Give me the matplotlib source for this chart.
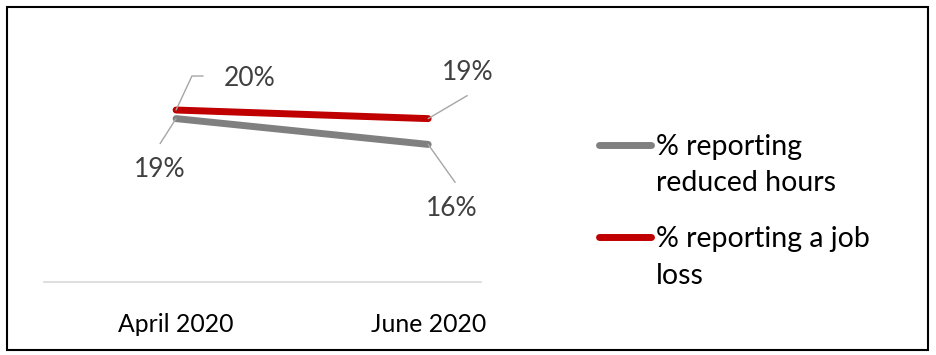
import matplotlib.pyplot as plt
from matplotlib.lines import Line2D
from matplotlib.patches import Rectangle

plt.rcParams['font.family'] = ['Lato', 'DejaVu Sans']

# data
categories = ['April 2020', 'June 2020']
reduced_hours = [19, 16]
job_loss = [20, 19]
series_names = ['% reporting\nreduced hours', '% reporting a job\nloss']
series_colors = ['#808080', '#c00000']

fig = plt.figure(figsize=(9.36, 3.55), dpi=100)
ax = fig.add_axes([0.047, 0.2056, 0.467, 0.6056])

x = range(len(categories))
ax.plot(x, reduced_hours, color=series_colors[0], lw=5, solid_capstyle='round')
ax.plot(x, job_loss, color=series_colors[1], lw=5, solid_capstyle='round')

ax.set_xlim(-0.524, 1.21)
ax.set_ylim(0, 25)
ax.set_xticks(list(x))
ax.set_xticklabels(categories, fontsize=17.8, color='black')
ax.tick_params(axis='x', length=0, pad=22)
ax.set_yticks([])
for s in ['top', 'right', 'left']:
    ax.spines[s].set_visible(False)
ax.spines['bottom'].set_color('#d9d9d9')
ax.spines['bottom'].set_linewidth(1.2)

# data labels with leader lines (offsets in pixels)
lead = dict(arrowstyle='-', color='#a6a6a6', lw=1, shrinkA=0, shrinkB=0)
lab = dict(fontsize=19, color='#404040', ha='center', va='center')

# April, job loss: elbow leader
ax.annotate('', xy=(0, job_loss[0]), xytext=(27, 34), textcoords='offset pixels',
            arrowprops=dict(lead, connectionstyle='angle,angleA=0,angleB=65,rad=0'))
ax.annotate(f'{job_loss[0]}%', xy=(0, job_loss[0]), xytext=(74, 32),
            textcoords='offset pixels', **lab)
# April, reduced hours
ax.annotate('', xy=(0, reduced_hours[0]), xytext=(-16, -25), textcoords='offset pixels',
            arrowprops=lead)
ax.annotate(f'{reduced_hours[0]}%', xy=(0, reduced_hours[0]), xytext=(-16, -51),
            textcoords='offset pixels', **lab)
# June, job loss
ax.annotate('', xy=(1, job_loss[1]), xytext=(39, 23), textcoords='offset pixels',
            arrowprops=lead)
ax.annotate(f'{job_loss[1]}%', xy=(1, job_loss[1]), xytext=(40, 46),
            textcoords='offset pixels', **lab)
# June, reduced hours
ax.annotate('', xy=(1, reduced_hours[1]), xytext=(27, -38), textcoords='offset pixels',
            arrowprops=lead)
ax.annotate(f'{reduced_hours[1]}%', xy=(1, reduced_hours[1]), xytext=(24, -64),
            textcoords='offset pixels', **lab)

# legend drawn by hand so the key sits on the first text line
W, H = 936, 355
leg_rows = [145, 237]
for name, col, yy in zip(series_names, series_colors, leg_rows):
    fig.add_artist(Line2D([599 / W, 651 / W], [1 - yy / H, 1 - yy / H], color=col,
                          lw=5, solid_capstyle='round'))
    fig.text(656 / W, 1 - (yy - 11) / H, name, fontsize=20.5, color='black',
             ha='left', va='top', linespacing=1.5)

# outer frame
fig.add_artist(Rectangle((7 / W, 5 / H), 921 / W, 343 / H, transform=fig.transFigure,
                         fill=False, edgecolor='black', lw=1.5))

fig.savefig('out.png', dpi=100)
